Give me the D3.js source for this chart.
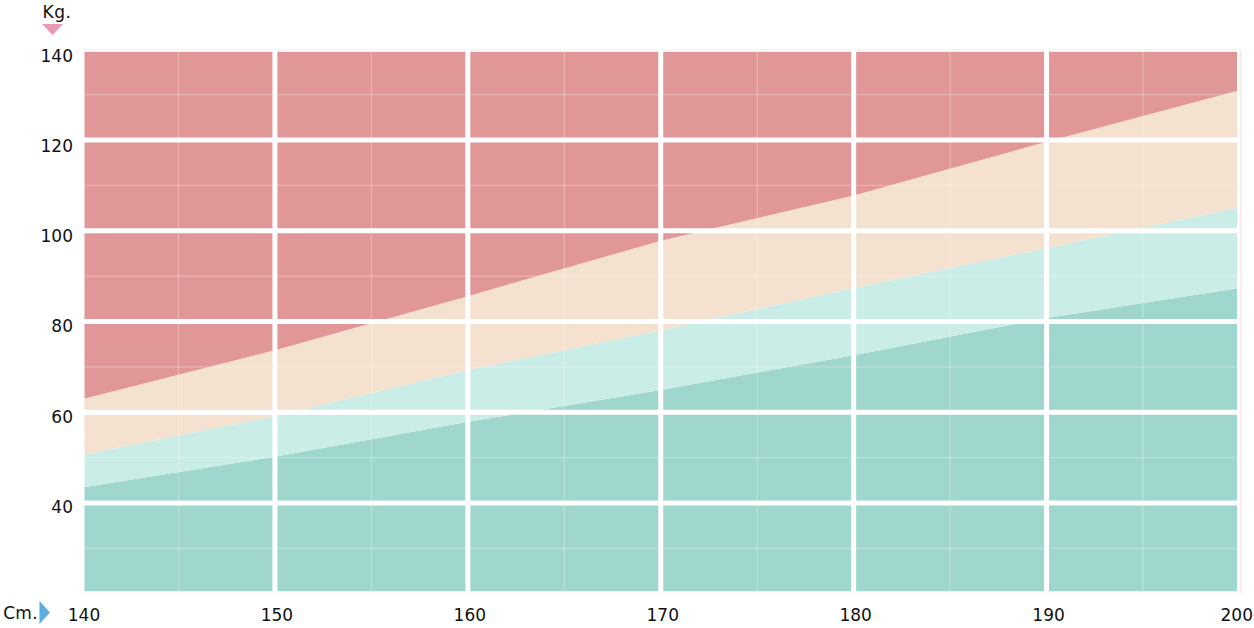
<!DOCTYPE html>
<html>
<head>
<meta charset="utf-8">
<script src="https://cdn.jsdelivr.net/npm/d3@7"></script>
<style>
  html, body { margin: 0; padding: 0; background: #fff; }
  svg { display: block; }
  text { font-family: "DejaVu Sans", sans-serif; fill: #111; }
</style>
</head>
<body>
<svg id="chart" width="1254" height="628"></svg>
<script>
// ---- data ----
const heights = [140, 150, 160, 170, 180, 190, 200];           // cm
const lowerNormal = [43.4, 50.2, 57.9, 64.9, 72.6, 80.8, 87.4]; // dark teal top
const upperNormal = [50.6, 59.2, 69.3, 78.1, 87.4, 96.2, 105.2]; // light teal top
const upperOver = [62.9, 73.7, 85.6, 97.8, 107.8, 119.6, 131.0]; // peach top
const xTicks = [140, 150, 160, 170, 180, 190, 200];
const yTicks = [40, 60, 80, 100, 120, 140];
const xMinor = [145, 155, 165, 175, 185, 195];
const yMinor = [30, 50, 70, 90, 110, 130];
const bandColors = ["#9fd6ce", "#cbede7", "#f4e1cf", "#e19698"];
const xLabel = "Cm.";
const yLabel = "Kg.";

const svg = d3.select("#chart");
const x = d3.scaleLinear().domain([140, 200]).range([82, 1239.5]);
const y = d3.scaleLinear().domain([20, 140]).range([593.8, 49.3]);
const yLab = d3.scaleLinear().domain([40, 140]).range([506.5, 56]);

svg.append("defs").append("clipPath").attr("id", "plotclip")
  .append("rect")
  .attr("x", x(140)).attr("y", y(140))
  .attr("width", x(200) - x(140)).attr("height", y(20) - y(140));

const g = svg.append("g").attr("clip-path", "url(#plotclip)");

const rows = heights.map((h, i) => ({
  h, b0: 20, b1: lowerNormal[i], b2: upperNormal[i], b3: upperOver[i], b4: 140
}));
const keys = ["b0", "b1", "b2", "b3", "b4"];
for (let k = 0; k < 4; k++) {
  const area = d3.area()
    .x(d => x(d.h))
    .y0(d => y(d[keys[k]]))
    .y1(d => y(d[keys[k + 1]]));
  g.append("path").datum(rows).attr("d", area).attr("fill", bandColors[k]);
}

// minor grid
g.selectAll(".vminor").data(xMinor).enter().append("line")
  .attr("x1", d => x(d)).attr("x2", d => x(d))
  .attr("y1", y(140)).attr("y2", y(20))
  .attr("stroke", "#fff").attr("stroke-opacity", 0.28).attr("stroke-width", 1.2);
g.selectAll(".hminor").data(yMinor).enter().append("line")
  .attr("y1", d => y(d)).attr("y2", d => y(d))
  .attr("x1", x(140)).attr("x2", x(200))
  .attr("stroke", "#fff").attr("stroke-opacity", 0.28).attr("stroke-width", 1.2);

// major grid (white gaps), including edges
const yMajor = [20].concat(yTicks);
g.selectAll(".vmajor").data(xTicks).enter().append("line")
  .attr("x1", d => x(d)).attr("x2", d => x(d))
  .attr("y1", y(140)).attr("y2", y(20))
  .attr("stroke", "#fff").attr("stroke-width", 5);
g.selectAll(".hmajor").data(yMajor).enter().append("line")
  .attr("y1", d => y(d)).attr("y2", d => y(d))
  .attr("x1", x(140)).attr("x2", x(200))
  .attr("stroke", "#fff").attr("stroke-width", 5);

// faint right edge line
svg.append("line")
  .attr("x1", x(200) + 1.5).attr("x2", x(200) + 1.5)
  .attr("y1", y(140) + 1).attr("y2", y(20) - 1)
  .attr("stroke", "#f3dada").attr("stroke-width", 1);

// y tick labels
svg.selectAll(".ylab").data(yTicks).enter().append("text")
  .attr("x", 73).attr("y", d => yLab(d))
  .attr("dy", "0.36em")
  .attr("text-anchor", "end")
  .style("font-size", "17px")
  .text(d => d);

// x tick labels (last one kept inside the page edge)
const lastX = xTicks[xTicks.length - 1];
svg.selectAll(".xlab").data(xTicks).enter().append("text")
  .attr("x", d => d === lastX ? 1253 : x(d) + 2).attr("y", 615)
  .attr("dy", "0.36em")
  .attr("text-anchor", d => d === lastX ? "end" : "middle")
  .style("font-size", "17px")
  .text(d => d);

// axis titles with triangles
svg.append("text").attr("x", 57).attr("y", 18)
  .attr("text-anchor", "middle")
  .style("font-size", "17px").style("letter-spacing", "0.5px")
  .text(yLabel);
svg.append("path")
  .attr("d", d3.line()([[42, 24], [63, 24], [52.5, 35]]) + "Z")
  .attr("fill", "#e89bb6");

svg.append("text").attr("x", 20.5).attr("y", 619)
  .attr("text-anchor", "middle")
  .style("font-size", "17px").style("letter-spacing", "0.3px")
  .text(xLabel);
svg.append("path")
  .attr("d", d3.line()([[39.5, 601], [39.5, 624], [50, 612.5]]) + "Z")
  .attr("fill", "#5aaee0");
</script>
</body>
</html>
